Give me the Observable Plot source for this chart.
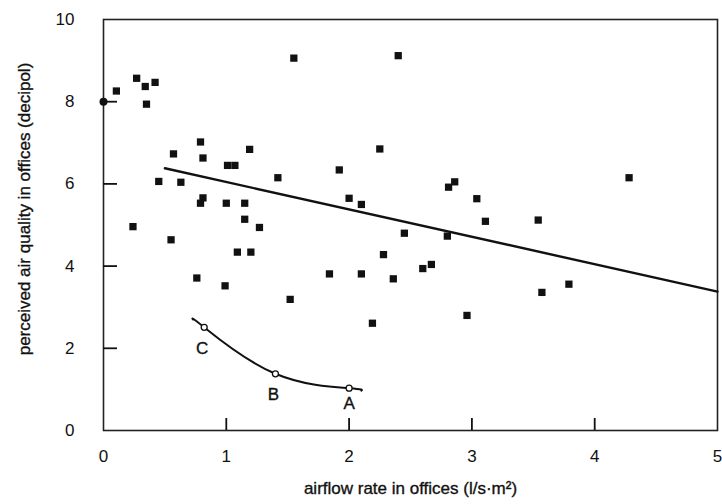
<!DOCTYPE html>
<html><head><meta charset="utf-8">
<script src="https://cdn.jsdelivr.net/npm/d3@7"></script>
<script src="https://cdn.jsdelivr.net/npm/@observablehq/plot@0.6"></script>
<style>body{margin:0;background:#fff;}</style>
</head><body><div id="chart"></div>
<script>
// Office measurements: airflow rate (l/s·m²) vs perceived air quality (decipol)
const airflow = [0.105,0.27,0.34,0.42,0.35,0.79,0.57,0.81,1.01,1.07,1.19,1.42,0.45,0.63,0.81,0.79,1.00,1.15,1.15,1.27,0.24,0.55,1.09,1.20,0.76,0.99,1.52,1.55,2.40,2.25,1.92,2.86,2.81,3.04,2.00,2.10,3.11,2.45,2.80,2.28,2.60,2.67,1.84,2.10,2.36,2.96,2.19,4.28,3.54,3.79,3.57];
const quality = [8.26,8.57,8.37,8.47,7.94,7.02,6.73,6.63,6.45,6.45,6.84,6.15,6.06,6.04,5.66,5.53,5.53,5.53,5.14,4.94,4.96,4.64,4.34,4.34,3.71,3.52,3.19,9.06,9.12,6.85,6.34,6.05,5.92,5.64,5.65,5.50,5.09,4.80,4.73,4.28,3.94,4.04,3.81,3.81,3.69,2.80,2.61,6.15,5.12,3.56,3.36];
// point drawn as a circle on the y axis
const axisPointX = [0.0];
const axisPointY = [8.0];
// regression line
const trendX = [0.5, 5.0];
const trendY = [6.38, 3.38];
// curve through A, B, C
const curveX = [0.73, 0.82, 1.40, 2.00, 2.10];
const curveY = [2.70, 2.51, 1.38, 1.03, 0.97];
const abcLabels = ["C", "B", "A"];
const abcX = [0.82, 1.40, 2.00];
const abcY = [2.51, 1.38, 1.03];
const xTicks = [0, 1, 2, 3, 4, 5];
const yTicks = [0, 2, 4, 6, 8, 10];
const xInnerTicks = [1, 2, 3, 4];
const yInnerTicks = [2, 4, 6, 8];
const xTitle = "airflow rate in offices (l/s·m²)";
const yTitle = "perceived air quality in offices (decipol)";

const pts = airflow.map((x, i) => ({x, y: quality[i]}));
const axisPts = axisPointX.map((x, i) => ({x, y: axisPointY[i]}));
const trend = trendX.map((x, i) => ({x, y: trendY[i]}));
const curve = curveX.map((x, i) => ({x, y: curveY[i]}));
const abc = abcLabels.map((t, i) => ({t, x: abcX[i], y: abcY[i]}));

const W = 722, H = 504, ML = 103, MR = 5, MT = 19, MB = 74;
const txt = {fill: "#111", stroke: "#111", strokeWidth: 0.35, fontSize: 17};
const fmt = d3.format("d");

const chart = Plot.plot({
  width: W, height: H,
  marginLeft: ML, marginRight: MR, marginTop: MT, marginBottom: MB,
  style: {fontFamily: "'Liberation Sans', Arial, sans-serif", fontSize: "17px", color: "#111", background: "#fff"},
  x: {domain: [0, 5]},
  y: {domain: [0, 10]},
  marks: [
    Plot.frame({stroke: "#222", strokeWidth: 1.6}),
    // inward ticks: 12px on the bottom, 14px on the left
    Plot.ruleX(xInnerTicks, {insetTop: (H - MT - MB) - 12, stroke: "#111", strokeWidth: 1.8}),
    Plot.ruleY(yInnerTicks, {insetRight: (W - ML - MR) - 14, stroke: "#111", strokeWidth: 1.8}),
    Plot.axisX(xTicks, {tickSize: 0, tickPadding: 19, label: null, tickFormat: fmt, ...txt}),
    Plot.axisY(yTicks, {tickSize: 0, tickPadding: 29, label: null, tickFormat: fmt, ...txt}),
    Plot.text([xTitle], {frameAnchor: "bottom", textAnchor: "middle", dy: 63, ...txt}),
    Plot.text([yTitle], {frameAnchor: "left", textAnchor: "middle", rotate: -90, dx: -79, dy: -16, ...txt}),
    Plot.line(trend, {x: "x", y: "y", stroke: "#111", strokeWidth: 2.4}),
    Plot.line(curve, {x: "x", y: "y", stroke: "#111", strokeWidth: 2, curve: "natural"}),
    Plot.dot(pts, {x: "x", y: "y", symbol: "square", r: 4.1, fill: "#111", stroke: "none"}),
    Plot.dot(axisPts, {x: "x", y: "y", symbol: "circle", r: 4, fill: "#111"}),
    Plot.dot(abc, {x: "x", y: "y", r: 3, fill: "#fff", stroke: "#111", strokeWidth: 1.3}),
    Plot.text(abc.filter(d => d.t !== "A"), {x: "x", y: "y", text: "t", dy: 21, dx: -2, ...txt}),
    Plot.text(abc.filter(d => d.t === "A"), {x: "x", y: "y", text: "t", dy: 15, ...txt})
  ]
});
document.getElementById("chart").appendChild(chart);
</script>
</body></html>
